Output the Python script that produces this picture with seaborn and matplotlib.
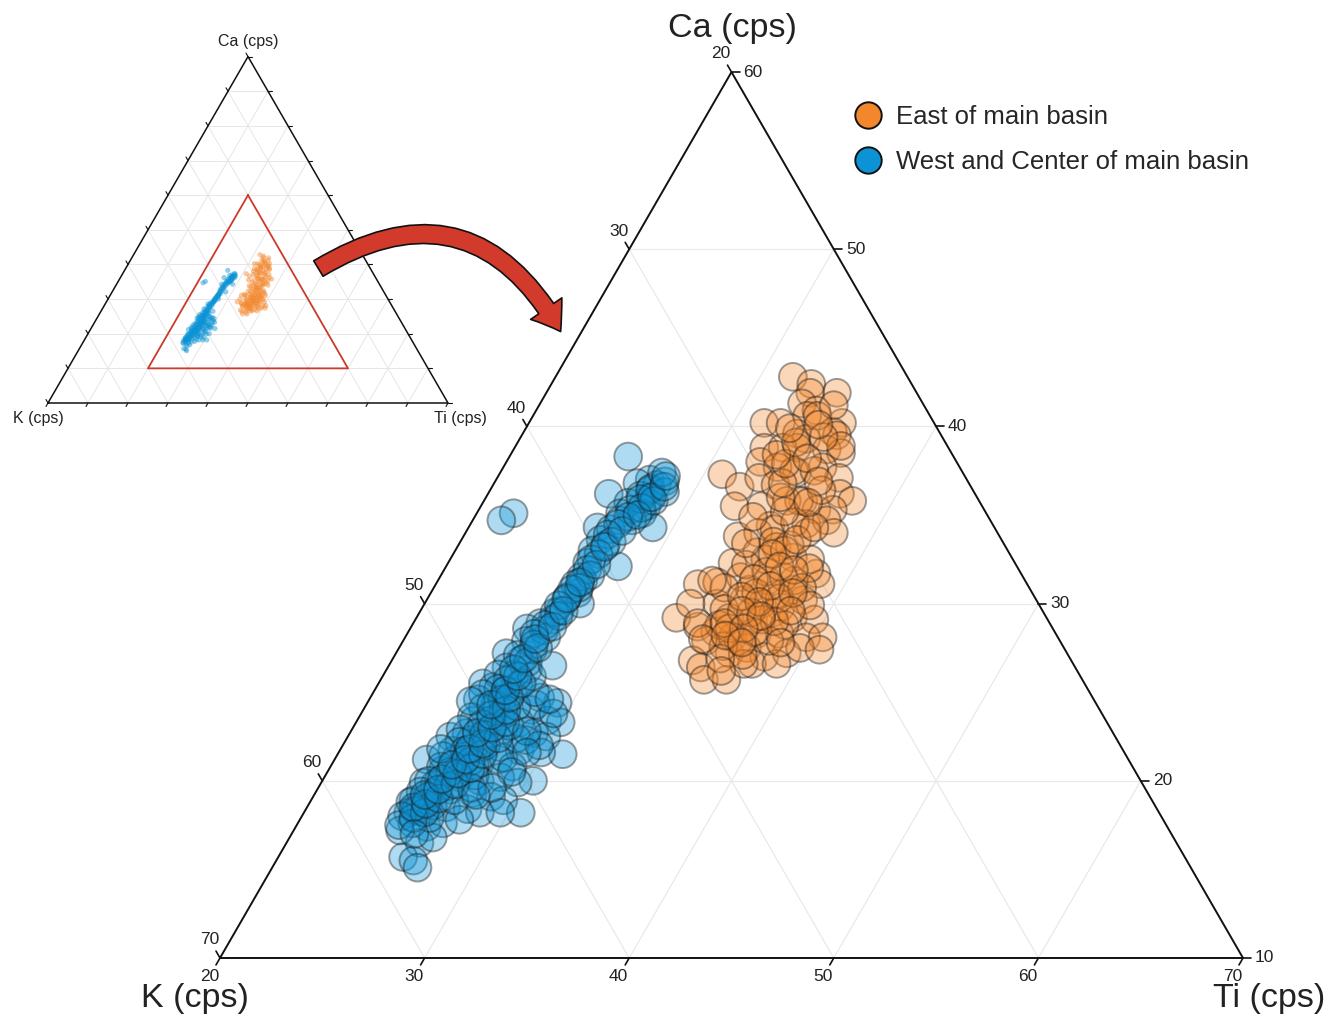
import numpy as np
import pandas as pd
import matplotlib
matplotlib.use("Agg")
import matplotlib.pyplot as plt
from matplotlib.lines import Line2D
from matplotlib.patches import FancyArrowPatch
import seaborn as sns

# ---------------- data (ternary values, cps normalised to 100) ----------------
east_ca = [42.8, 42.4, 41.9, 41.9, 41.3, 40.9, 40.2, 40.2, 40.2, 40.6, 39.7, 39.5, 39.6, 39.3,
           38.8, 38.8, 38.7, 38.5, 38.8, 38.0, 37.4, 37.7, 37.3, 36.6, 37.1, 36.7, 37.7, 37.1,
           35.8, 36.2, 35.8, 35.5, 35.5, 35.8, 35.3, 35.3, 34.4, 34.5, 34.7, 33.8, 34.0, 34.2,
           34.0, 34.0, 32.3, 32.9, 33.2, 32.6, 31.7, 31.1, 31.2, 31.5, 31.3, 30.8, 31.1, 30.0,
           30.2, 30.0, 29.8, 30.2, 29.2, 28.7, 28.4, 29.2, 29.1, 29.5, 29.2, 29.1, 27.9, 28.1,
           28.3, 28.3, 28.1, 28.1, 26.8, 26.4, 27.2, 27.5, 27.0, 27.2, 27.5, 27.4, 25.7, 25.7,
           26.6, 26.6, 32.5, 30.8, 30.5, 29.1, 28.8, 27.9, 31.3, 33.3, 32.5, 37.5, 35.8, 27.9,
           28.8, 26.6,
           33.5, 33.0, 32.2, 31.8, 31.5, 30.9, 30.6, 30.3, 29.7, 29.5, 29.0, 28.6, 28.4, 27.8,
           27.6, 27.1, 26.9, 32.0, 30.9, 29.9, 34.6, 35.2, 36.0, 36.8, 37.9, 38.4, 39.1, 39.9,
           40.6, 41.2, 37.5, 36.4, 38.9, 34.9, 33.4, 31.3, 30.0, 28.9, 28.0, 26.2,
           32.8, 32.1, 31.4, 31.0, 30.4, 30.1, 29.6, 29.3, 28.9, 28.6, 28.2, 27.8, 31.9, 30.6,
           29.6, 33.6, 34.3, 39.4, 38.2, 40.1, 36.9, 35.7]
east_k = [25.6, 24.9, 23.9, 25.2, 25.9, 25.4, 24.5, 28.3, 27.5, 26.0, 25.2, 25.1, 27.0, 26.7,
          29.0, 28.1, 26.0, 25.4, 27.4, 29.6, 28.1, 28.9, 31.8, 31.3, 30.1, 29.5, 26.7, 26.2,
          28.6, 26.6, 26.2, 32.1, 30.8, 29.4, 28.2, 27.4, 30.9, 29.1, 28.0, 32.8, 31.7, 30.8,
          29.3, 28.0, 33.8, 32.3, 31.2, 30.7, 30.0, 36.1, 35.1, 33.8, 32.6, 31.6, 30.1, 35.7,
          34.3, 33.5, 32.7, 31.4, 38.1, 37.3, 36.6, 35.5, 34.4, 33.2, 32.4, 31.4, 37.3, 35.9,
          34.6, 33.5, 32.3, 31.5, 38.5, 38.3, 36.5, 35.5, 34.9, 33.7, 32.9, 32.0, 38.5, 37.4,
          35.7, 34.5, 32.1, 33.7, 32.6, 34.0, 33.0, 35.7, 31.3, 30.5, 29.9, 28.2, 28.8, 34.2,
          36.2, 36.1,
          31.2, 30.9, 33.2, 32.4, 31.7, 34.9, 33.5, 32.5, 35.5, 34.3, 33.4, 35.8, 34.7, 33.7,
          36.6, 35.9, 37.1, 30.2, 31.1, 31.2, 29.6, 29.8, 29.6, 29.1, 28.4, 28.6, 27.3, 27.2,
          25.5, 24.4, 27.2, 27.4, 25.2, 31.5, 32.6, 35.3, 37.0, 37.2, 37.4, 37.4,
          31.6, 31.6, 33.2, 32.6, 34.3, 33.6, 34.7, 33.9, 35.9, 35.1, 36.2, 35.6, 31.0, 31.7,
          32.3, 30.0, 28.8, 25.8, 27.2, 25.7, 27.3, 28.4]
east_ti = [31.6, 32.7, 34.2, 32.9, 32.8, 33.7, 35.3, 31.5, 32.3, 33.4, 35.1, 35.4, 33.4, 34.0,
           32.2, 33.1, 35.3, 36.1, 33.8, 32.4, 34.5, 33.4, 30.9, 32.1, 32.8, 33.8, 35.6, 36.7,
           35.6, 37.2, 38.0, 32.4, 33.7, 34.8, 36.5, 37.3, 34.7, 36.4, 37.3, 33.4, 34.3, 35.0,
           36.7, 38.0, 33.9, 34.8, 35.6, 36.7, 38.3, 32.8, 33.7, 34.7, 36.1, 37.6, 38.8, 34.3,
           35.5, 36.5, 37.5, 38.4, 32.7, 34.0, 35.0, 35.3, 36.5, 37.3, 38.4, 39.5, 34.8, 36.0,
           37.1, 38.2, 39.6, 40.4, 34.7, 35.3, 36.3, 37.0, 38.1, 39.1, 39.6, 40.6, 35.8, 36.9,
           37.7, 38.9, 35.4, 35.5, 36.9, 36.9, 38.2, 36.4, 37.4, 36.2, 37.6, 34.3, 35.4, 37.9,
           35.0, 37.3,
           35.3, 36.1, 34.6, 35.8, 36.8, 34.2, 35.9, 37.2, 34.8, 36.2, 37.6, 35.6, 36.9, 38.5,
           35.8, 37.0, 36.0, 37.8, 38.0, 38.9, 35.8, 35.0, 34.4, 34.1, 33.7, 33.0, 33.6, 32.9,
           33.9, 34.4, 35.3, 36.2, 35.9, 33.6, 34.0, 33.4, 33.0, 33.9, 34.6, 36.4,
           35.6, 36.3, 35.4, 36.4, 35.3, 36.3, 35.7, 36.8, 35.2, 36.3, 35.6, 36.6, 37.1, 37.7,
           38.1, 36.4, 36.9, 34.8, 34.6, 34.2, 35.8, 35.9]

west_ca = [38.3, 37.0, 36.7, 36.8, 36.2, 36.0, 35.5, 35.7, 35.1, 35.1, 34.3, 34.7, 35.1, 34.7,
           34.3, 34.2, 33.6, 33.0, 32.1, 32.3, 31.5, 31.3, 30.6, 30.0, 30.4, 29.6, 29.1, 28.9,
           28.6, 28.1, 27.9, 27.4, 27.2, 26.8, 26.4, 26.3, 25.5, 25.3, 25.0, 24.7, 24.4, 24.6,
           24.4, 24.0, 23.4, 23.3, 23.6, 23.4, 23.3, 22.5, 22.7, 22.9, 22.9, 22.7, 22.5, 21.5,
           21.2, 21.7, 21.6, 21.9, 21.9, 21.7, 21.6, 20.6, 20.8, 21.0, 21.2, 20.8, 20.0, 19.9,
           20.0, 20.2, 20.0, 20.2, 19.9, 18.9, 19.3, 19.5, 19.3, 19.1, 18.9, 18.2, 18.4, 18.2,
           18.4, 18.5, 18.4, 18.2, 18.2, 17.4, 17.6, 17.8, 16.5, 16.8, 15.7, 15.5, 15.1, 31.1,
           33.3, 34.7, 36.1, 28.5, 26.0, 24.3, 22.3, 21.2, 19.8, 18.6, 23.4, 20.9, 22.3, 24.3,
           36.4, 35.3, 30.2, 29.5, 25.4, 25.1,
           36.5, 35.9, 35.4, 34.9, 34.5, 33.9, 33.5, 32.8, 32.5, 31.9, 31.6, 30.9, 30.8, 29.9,
           29.3, 28.8, 28.3, 27.7, 27.1, 26.7, 36.9, 36.3, 35.8, 37.4,
           26.0, 25.7, 25.2, 24.9, 24.6, 24.1, 23.9, 23.6, 23.2, 22.9, 22.6, 22.2, 22.0, 21.7,
           21.4, 21.1, 20.8, 20.5, 20.3, 20.0, 19.7, 19.4, 19.1, 18.8, 18.6, 18.3, 18.0, 17.9,
           17.6, 17.2, 18.9, 19.6, 21.3, 22.4, 23.1, 24.2, 25.0, 23.8, 22.0, 20.5, 19.6, 24.5,
           21.8, 25.9, 26.5,
           17.5, 17.9, 18.2, 18.5, 18.7, 19.0, 19.2, 19.5, 19.8, 20.1, 20.4, 20.7, 20.9, 21.2,
           21.5, 21.8, 22.1, 22.4, 22.7, 23.0, 23.3, 23.7, 24.0, 24.3, 24.7, 25.1, 25.5, 25.9,
           26.3, 26.9, 22.8, 21.6, 24.6, 19.2, 17.0,
           27.5, 28.0, 28.7, 29.6, 30.3, 31.2, 32.2, 33.2, 34.1, 35.0, 36.0, 36.6, 37.2]
west_k = [35.9, 35.5, 35.3, 36.2, 37.9, 36.0, 36.4, 37.2, 37.9, 36.8, 36.7, 37.5, 43.1, 43.9,
          39.4, 38.8, 39.6, 40.3, 39.5, 40.9, 41.6, 41.6, 42.2, 42.4, 42.8, 43.6, 44.2, 44.9,
          45.7, 45.0, 46.1, 46.0, 47.4, 46.9, 47.8, 46.8, 49.4, 49.0, 48.2, 47.0, 46.3, 50.1,
          48.8, 47.8, 47.3, 46.7, 49.5, 50.9, 48.7, 52.5, 51.6, 50.3, 49.7, 48.3, 47.8, 47.5,
          54.3, 52.8, 52.1, 51.2, 50.4, 49.5, 48.5, 53.8, 52.9, 51.8, 50.8, 50.3, 49.7, 55.1,
          54.3, 53.2, 52.3, 51.2, 50.5, 56.1, 54.9, 54.0, 53.0, 52.2, 51.7, 51.2, 56.3, 56.7,
          55.7, 54.7, 53.7, 53.2, 52.2, 56.2, 55.3, 54.4, 57.0, 56.2, 58.2, 57.8, 57.8, 42.1,
          39.5, 38.1, 36.4, 44.9, 47.6, 49.4, 51.6, 52.9, 54.6, 55.9, 50.1, 52.1, 48.9, 47.4,
          35.8, 37.3, 43.0, 43.9, 47.7, 48.5,
          35.7, 36.5, 36.7, 37.6, 38.3, 39.1, 39.1, 40.1, 40.6, 41.1, 41.1, 42.0, 42.4, 43.5,
          43.8, 44.7, 45.5, 45.8, 46.9, 46.6, 34.8, 35.1, 35.9, 34.7,
          48.4, 48.1, 48.8, 49.7, 48.9, 50.1, 49.2, 50.9, 50.6, 51.8, 50.8, 52.2, 51.0, 52.2,
          53.4, 52.2, 53.8, 53.5, 52.4, 54.8, 54.0, 55.5, 55.3, 56.3, 55.3, 56.3, 57.1, 55.8,
          56.8, 57.6, 54.1, 52.9, 50.5, 49.3, 49.3, 48.4, 47.1, 46.8, 48.4, 50.5, 51.9, 50.5,
          53.3, 46.8, 45.5,
          57.5, 56.6, 55.9, 56.3, 55.6, 54.8, 55.4, 54.6, 53.6, 54.1, 53.2, 52.4, 53.2, 52.4,
          51.4, 51.9, 51.1, 50.2, 51.1, 50.2, 49.4, 49.9, 49.0, 49.6, 48.5, 48.5, 47.5, 47.5,
          47.5, 46.7, 48.6, 49.2, 46.6, 52.9, 57.0,
          45.7, 45.6, 44.4, 43.4, 42.9, 41.8, 40.5, 39.6, 38.3, 37.1, 35.9, 35.0, 34.6]
west_ti = [25.8, 27.5, 28.0, 27.0, 25.9, 28.0, 28.1, 27.1, 27.0, 28.1, 29.0, 27.8, 21.8, 21.4,
           26.3, 27.0, 26.8, 26.7, 28.4, 26.8, 26.9, 27.1, 27.2, 27.6, 26.8, 26.8, 26.7, 26.2,
           25.7, 26.9, 26.0, 26.6, 25.4, 26.3, 25.8, 26.9, 25.1, 25.7, 26.8, 28.3, 29.3, 25.3,
           26.8, 28.2, 29.3, 30.0, 26.9, 25.7, 28.0, 25.0, 25.7, 26.8, 27.4, 29.0, 29.7, 31.0,
           24.5, 25.5, 26.3, 26.9, 27.7, 28.8, 29.9, 25.6, 26.3, 27.2, 28.0, 28.9, 30.3, 25.0,
           25.7, 26.6, 27.7, 28.6, 29.6, 25.0, 25.8, 26.5, 27.7, 28.7, 29.4, 30.6, 25.3, 25.1,
           25.9, 26.8, 27.9, 28.6, 29.6, 26.4, 27.1, 27.8, 26.5, 27.0, 26.1, 26.7, 27.1, 26.8,
           27.2, 27.2, 27.5, 26.6, 26.4, 26.3, 26.1, 25.9, 25.6, 25.5, 26.5, 27.0, 28.8, 28.3,
           27.8, 27.4, 26.8, 26.6, 26.9, 26.4,
           27.8, 27.6, 27.9, 27.5, 27.2, 27.0, 27.4, 27.1, 26.9, 27.0, 27.3, 27.1, 26.8, 26.6,
           26.9, 26.5, 26.2, 26.5, 26.0, 26.7, 28.3, 28.6, 28.3, 27.9,
           25.6, 26.2, 26.0, 25.4, 26.5, 25.8, 26.9, 25.5, 26.2, 25.3, 26.6, 25.6, 27.0, 26.1,
           25.2, 26.7, 25.4, 26.0, 27.3, 25.2, 26.3, 25.1, 25.6, 24.9, 26.1, 25.4, 24.9, 26.3,
           25.6, 25.2, 27.0, 27.5, 28.2, 28.3, 27.6, 27.4, 27.9, 29.4, 29.6, 29.0, 28.5, 25.0,
           24.9, 27.3, 28.0,
           25.0, 25.5, 25.9, 25.2, 25.7, 26.2, 25.4, 25.9, 26.6, 25.8, 26.4, 26.9, 25.9, 26.4,
           27.1, 26.3, 26.8, 27.4, 26.2, 26.8, 27.3, 26.4, 27.0, 26.1, 26.8, 26.4, 27.0, 26.6,
           26.2, 26.4, 28.6, 29.2, 28.8, 27.9, 26.0,
           26.8, 26.4, 26.9, 27.0, 26.8, 27.0, 27.3, 27.2, 27.6, 27.9, 28.1, 28.4, 28.2]

groups = ["East of main basin", "West and Center of main basin"]
colors = ["#F3872C", "#0B93D5"]
axis_names = ["Ca (cps)", "K (cps)", "Ti (cps)"]
ticks_vals = [10, 20, 30, 40, 50, 60, 70]
ca_range = [10, 60]
k_range = [20, 70]
ti_range = [20, 70]

df = pd.DataFrame({
    "Ca": east_ca + west_ca,
    "K": east_k + west_k,
    "Ti": east_ti + west_ti,
    "group": [groups[0]] * len(east_ca) + [groups[1]] * len(west_ca),
})

SQ = np.sqrt(3) / 2


def proj(ca, k, ti, mins, span):
    ca = np.asarray(ca, float); k = np.asarray(k, float); ti = np.asarray(ti, float)
    tot = ca + k + ti
    a = (ca / tot * 100 - mins[0]) / span
    c = (ti / tot * 100 - mins[2]) / span
    return c + a / 2, a * SQ


sns.set_theme(style="white")
plt.rcParams["font.family"] = ["Liberation Sans", "DejaVu Sans"]

W, H = 1338, 1019
fig = plt.figure(figsize=(W / 100, H / 100), dpi=100)

# ---------------- main ternary ----------------
ML, MB, MW = 220, 958, 1023
ax = fig.add_axes([ML / W, (H - MB) / H, MW / W, MW * SQ / H])
ax.set_xlim(0, 1)
ax.set_ylim(0, SQ)
ax.axis("off")
mins = [ca_range[0], k_range[0], ti_range[0]]
span = ca_range[1] - ca_range[0]
px = 1.0 / MW

for v in range(1, 5):
    f = v / 5
    ax.plot([f / 2, 1 - f / 2], [f * SQ, f * SQ], color="#e9e9e9", lw=0.9, zorder=0)
    ax.plot([f, f + (1 - f) / 2], [0, (1 - f) * SQ], color="#e9e9e9", lw=0.9, zorder=0)
    ax.plot([1 - f, (1 - f) / 2], [0, (1 - f) * SQ], color="#e9e9e9", lw=0.9, zorder=0)

ax.plot([0, 1, 0.5, 0], [0, 0, SQ, 0], color="#111111", lw=1.4, zorder=3,
        solid_joinstyle="miter", clip_on=False)

tl = 8 * px
fs_tick = 12.5
for v in ticks_vals:
    if ca_range[0] <= v <= ca_range[1]:
        a = (v - ca_range[0]) / span
        x0, y0 = 1 - a / 2, a * SQ
        ax.plot([x0, x0 + tl], [y0, y0], color="#111", lw=1.2, clip_on=False)
        ax.text(x0 + 12 * px, y0, str(v), ha="left", va="center", fontsize=fs_tick,
                color="#222")
    if k_range[0] <= v <= k_range[1]:
        b = (v - k_range[0]) / span
        a = 1 - b
        x0, y0 = a / 2, a * SQ
        d = np.array([-0.5, SQ])
        ax.plot([x0, x0 + d[0] * tl], [y0, y0 + d[1] * tl], color="#111", lw=1.2,
                clip_on=False)
        ax.text(x0 + d[0] * 21 * px, y0 + d[1] * 21 * px, str(v), ha="center",
                va="center", fontsize=fs_tick, color="#222")
    if ti_range[0] <= v <= ti_range[1]:
        c = (v - ti_range[0]) / span
        x0, y0 = c, 0
        d = np.array([-0.5, -SQ])
        ax.plot([x0, x0 + d[0] * tl], [y0, y0 + d[1] * tl], color="#111", lw=1.2,
                clip_on=False)
        ax.text(x0 + d[0] * 21 * px, y0 + d[1] * 21 * px, str(v), ha="center",
                va="center", fontsize=fs_tick, color="#222")

X, Y = proj(df["Ca"], df["K"], df["Ti"], mins, span)
df["x"], df["y"] = X, Y
sns.scatterplot(data=df, x="x", y="y", hue="group", hue_order=groups,
                palette=dict(zip(groups, colors)), s=400, linewidth=1.4,
                legend=False, ax=ax, zorder=4, clip_on=False)
coll = ax.collections[-1]
fc = coll.get_facecolors().copy()
fc[:, 3] = 0.33
coll.set_facecolors(fc)
coll.set_edgecolors([(0.1, 0.1, 0.1, 0.42)])
ax.set_xlim(0, 1)
ax.set_ylim(0, SQ)

# ---------------- inset ternary ----------------
IL, IB, IW = 48, 403, 400
ax2 = fig.add_axes([IL / W, (H - IB) / H, IW / W, IW * SQ / H])
ax2.set_xlim(0, 1)
ax2.set_ylim(0, SQ)
ax2.axis("off")
for v in range(1, 10):
    f = v / 10
    ax2.plot([f / 2, 1 - f / 2], [f * SQ, f * SQ], color="#e6e6e6", lw=0.7, zorder=0)
    ax2.plot([f, f + (1 - f) / 2], [0, (1 - f) * SQ], color="#e6e6e6", lw=0.7, zorder=0)
    ax2.plot([1 - f, (1 - f) / 2], [0, (1 - f) * SQ], color="#e6e6e6", lw=0.7, zorder=0)
ax2.plot([0, 1, 0.5, 0], [0, 0, SQ, 0], color="#111111", lw=1.1, zorder=3, clip_on=False)
itl = 4 / IW
for v in range(0, 101, 10):
    f = v / 100
    ax2.plot([1 - f / 2, 1 - f / 2 + itl], [f * SQ, f * SQ], color="#111", lw=0.8,
             clip_on=False)
    a = 1 - f
    ax2.plot([a / 2, a / 2 - 0.5 * itl], [a * SQ, a * SQ + SQ * itl], color="#111", lw=0.8,
             clip_on=False)
    ax2.plot([f, f - 0.5 * itl], [0, -SQ * itl], color="#111", lw=0.8, clip_on=False)

zx, zy = proj([ca_range[1], ca_range[0], ca_range[0], ca_range[1]],
              [k_range[0], k_range[1], k_range[0], k_range[0]],
              [ti_range[0], ti_range[0], ti_range[1], ti_range[0]], [0, 0, 0], 100)
ax2.plot(zx, zy, color="#CC3A2C", lw=1.3, zorder=2)

X2, Y2 = proj(df["Ca"], df["K"], df["Ti"], [0, 0, 0], 100)
df["x2"], df["y2"] = X2, Y2
sns.scatterplot(data=df, x="x2", y="y2", hue="group", hue_order=groups,
                palette=dict(zip(groups, colors)), s=14, linewidth=0, alpha=0.45,
                legend=False, ax=ax2, zorder=4)
ax2.set_xlim(0, 1)
ax2.set_ylim(0, SQ)

# ---------------- overlay (pixel coordinates) for titles, arrow ----------------
ov = fig.add_axes([0, 0, 1, 1], zorder=10)
ov.set_xlim(0, W)
ov.set_ylim(H, 0)
ov.axis("off")
ov.patch.set_alpha(0)

ov.text(732, 28, axis_names[0], ha="center", va="center", fontsize=24.5, color="#222")
ov.text(195, 999, axis_names[1], ha="center", va="center", fontsize=24.5, color="#222")
ov.text(1269, 999, axis_names[2], ha="center", va="center", fontsize=24.5, color="#222")

ov.text(248, 41, axis_names[0], ha="center", va="center", fontsize=11.5, color="#222")
ov.text(38, 418, axis_names[1], ha="center", va="center", fontsize=11.5, color="#222")
ov.text(460, 418, axis_names[2], ha="center", va="center", fontsize=11.5, color="#222")

arrow = FancyArrowPatch((316, 270), (562, 334), connectionstyle="arc3,rad=-0.52",
                        arrowstyle="simple,head_length=1.5,head_width=2.1,tail_width=1.0",
                        mutation_scale=13, facecolor="#D23A2B", edgecolor="#111",
                        lw=1.2, zorder=5)
ov.add_patch(arrow)

handles = [Line2D([], [], marker="o", linestyle="none", markersize=19,
                  markerfacecolor=colors[i], markeredgecolor="#111", markeredgewidth=1.4)
           for i in range(2)]
fig.legend(handles, groups, loc="upper left", bbox_to_anchor=(842 / W, 1 - 95 / H),
           frameon=False, fontsize=18.5, handletextpad=0.5, labelspacing=0.82,
           borderaxespad=0, handlelength=1.2)

fig.savefig("out.png", dpi=100)
